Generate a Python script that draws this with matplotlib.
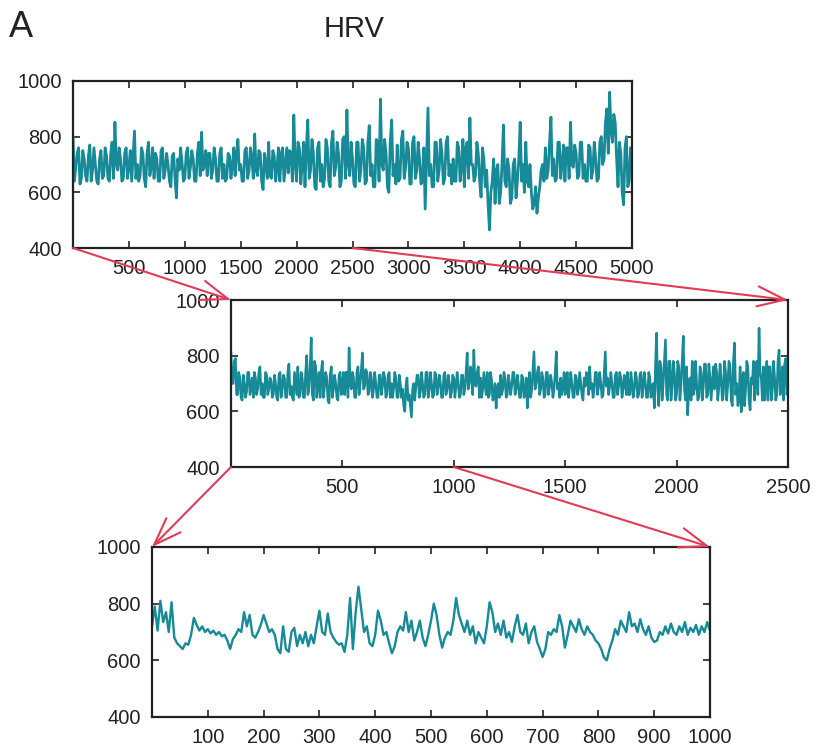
import numpy as np
import matplotlib
matplotlib.use("Agg")
import matplotlib.pyplot as plt
from matplotlib.patches import ConnectionPatch

plt.rcParams['font.family'] = ['Liberation Sans', 'DejaVu Sans']

# --- data (RR intervals, ms) ---
# top panel: beats 0..5000, readings every 25 beats ...
top_step = 25
top_rr = [
    800, 690, 760, 650, 720, 640, 770, 680, 700, 630, 750, 660, 730, 640, 780, 852, 680, 720, 650, 760,
    690, 640, 820, 700, 660, 740, 620, 780, 690, 650, 720, 640, 760, 680, 700, 620, 740, 580, 680, 710,
    650, 760, 690, 720, 640, 780, 816, 700, 660, 740, 680, 720, 640, 760, 700, 650, 730, 690, 660, 790,
    700, 640, 760, 680, 720, 810, 660, 740, 610, 700, 780, 650, 730, 690, 640, 760, 700, 670, 740, 878,
    640, 760, 700, 620, 860, 680, 740, 610, 780, 700, 650, 760, 620, 820, 690, 740, 640, 800, 896, 660,
    720, 620, 780, 680, 760, 640, 840, 700, 620, 780, 935, 680, 740, 600, 860, 700, 770, 650, 820, 690,
    760, 630, 800, 680, 720, 640, 540, 903, 700, 620, 780, 680, 740, 650, 800, 700, 720, 640, 760, 690,
    620, 780, 867, 700, 660, 740, 583, 720, 680, 465, 640, 560, 700, 600, 842, 620, 680, 580, 720, 640,
    852, 700, 780, 620, 600, 560, 525, 620, 700, 760, 680, 870, 720, 650, 780, 700, 640, 760, 852, 690,
    740, 660, 780, 700, 640, 760, 680, 720, 650, 800, 720, 900, 960, 780, 850, 620, 740, 555, 800, 640,
    700,
]
# ... plus the beats half way between them (12.5, 37.5, ...)
top_rr_half = [
    640, 740, 630, 750, 660, 730, 640, 760, 640, 720, 650, 760, 650, 740, 650, 700, 760, 640, 740, 650,
    750, 730, 650, 640, 760, 650, 740, 660, 760, 740, 640, 750, 650, 740, 640, 730, 650, 720, 760, 640,
    740, 650, 750, 640, 740, 660, 680, 750, 740, 650, 760, 640, 740, 650, 640, 740, 650, 760, 740, 680,
    640, 750, 650, 760, 650, 680, 750, 640, 740, 650, 660, 750, 640, 760, 740, 640, 760, 750, 640, 700,
    780, 630, 780, 760, 650, 790, 620, 760, 640, 620, 790, 640, 780, 660, 780, 620, 790, 650, 700, 780,
    630, 780, 640, 790, 630, 780, 660, 620, 790, 640, 700, 790, 620, 780, 660, 630, 640, 790, 650, 780,
    630, 780, 650, 780, 630, 760, 720, 660, 620, 780, 640, 790, 630, 780, 660, 630, 640, 780, 640, 790,
    760, 650, 700, 640, 780, 640, 760, 620, 560, 600, 720, 680, 560, 700, 640, 720, 560, 700, 580, 720,
    640, 600, 640, 700, 540, 620, 580, 680, 640, 650, 780, 660, 640, 780, 650, 770, 760, 650, 700, 770,
    650, 780, 650, 640, 770, 650, 780, 640, 780, 700, 850, 740, 820, 880, 720, 780, 600, 760, 620, 760,
]

# middle panel: beats 0..2500, readings every 10 beats ...
mid_step = 10
mid_rr = [
    810, 700, 790, 660, 720, 640, 700, 670, 740, 690,
    650, 720, 680, 760, 700, 650, 730, 680, 710, 660,
    700, 640, 740, 680, 720, 650, 770, 690, 640, 700,
    760, 660, 720, 650, 800, 680, 864, 640, 760, 700,
    650, 780, 690, 720, 630, 760, 680, 700, 640, 740,
    690, 660, 740, 828, 680, 720, 650, 760, 700, 810,
    690, 740, 670, 720, 680, 700, 650, 730, 690, 720,
    660, 740, 700, 680, 720, 650, 700, 680, 600, 720,
    660, 580, 700, 690, 730, 670, 700, 660, 740, 680,
    700, 660, 730, 690, 700, 650, 740, 680, 700, 670,
    720, 690, 700, 660, 730, 680, 810, 700, 740, 820,
    690, 760, 720, 680, 700, 740, 660, 710, 650, 612,
    700, 730, 680, 720, 660, 700, 690, 740, 680, 700,
    650, 720, 660, 612, 740, 680, 814, 700, 760, 680,
    720, 660, 740, 690, 700, 680, 814, 700, 720, 690,
    660, 740, 690, 700, 650, 720, 680, 700, 640, 690,
    720, 760, 700, 680, 740, 690, 700, 660, 814, 720,
    690, 700, 650, 740, 690, 720, 680, 700, 740, 660,
    700, 680, 720, 660, 740, 690, 700, 650, 720, 690,
    612, 881, 620, 760, 700, 857, 640, 780, 690, 740,
    660, 760, 700, 870, 640, 587, 720, 780, 680, 700,
    650, 740, 690, 770, 660, 720, 700, 680, 740, 690,
    720, 660, 740, 700, 760, 620, 846, 700, 640, 598,
    740, 680, 760, 605, 700, 640, 780, 899, 720, 760,
    700, 640, 760, 680, 720, 660, 820, 700, 640, 790,
    700,
]
# ... plus the beats half way between them (5, 15, ...)
mid_rr_half = [
    700, 780, 660, 740, 650, 730, 650, 740, 660, 720,
    740, 660, 740, 660, 650, 740, 660, 720, 650, 730,
    650, 730, 650, 730, 650, 740, 660, 650, 740, 660,
    650, 740, 650, 740, 660, 760, 660, 780, 650, 740,
    740, 650, 740, 640, 730, 650, 730, 650, 730, 660,
    740, 740, 650, 700, 740, 650, 740, 660, 750, 680,
    750, 660, 740, 650, 740, 650, 730, 660, 740, 650,
    730, 650, 650, 740, 650, 730, 650, 620, 690, 640,
    620, 680, 640, 730, 650, 740, 650, 740, 650, 740,
    650, 740, 660, 730, 650, 730, 660, 730, 650, 730,
    650, 740, 650, 730, 660, 740, 680, 760, 660, 700,
    740, 650, 650, 740, 660, 650, 740, 640, 700, 680,
    650, 660, 740, 650, 730, 660, 740, 660, 730, 650,
    730, 650, 720, 690, 650, 750, 680, 740, 660, 740,
    650, 740, 660, 730, 650, 740, 680, 650, 660, 740,
    730, 650, 740, 650, 730, 660, 740, 660, 720, 740,
    660, 680, 650, 740, 660, 740, 650, 740, 690, 660,
    740, 650, 730, 660, 740, 650, 730, 660, 660, 740,
    650, 740, 650, 730, 650, 740, 650, 740, 650, 700,
    760, 680, 780, 640, 780, 660, 780, 640, 780, 640,
    780, 640, 780, 680, 760, 700, 640, 660, 780, 640,
    760, 640, 770, 650, 770, 640, 760, 770, 640, 770,
    640, 780, 640, 780, 640, 780, 660, 620, 760, 720,
    620, 780, 640, 720, 780, 760, 660, 740, 640, 640,
    780, 760, 640, 780, 640, 780, 660, 760, 770, 660,
]

# bottom panel: beats 0..1000, one value every 5 beats
bot_step = 5
bot_rr = [
    720, 790, 705, 810, 735, 770, 700, 805, 680, 660,
    650, 640, 660, 655, 690, 750, 725, 705, 720, 700,
    710, 695, 705, 690, 700, 685, 690, 670, 640, 675,
    690, 710, 700, 770, 720, 760, 690, 680, 700, 725,
    760, 730, 700, 710, 690, 640, 625, 720, 640, 630,
    700, 715, 650, 690, 660, 700, 650, 690, 660, 720,
    775, 700, 690, 765, 700, 680, 665, 655, 660, 630,
    690, 820, 640, 770, 860, 780, 700, 720, 660, 650,
    690, 775, 740, 690, 700, 660, 625, 650, 700, 720,
    705, 770, 700, 740, 670, 700, 740, 680, 650, 690,
    740, 800, 760, 690, 645, 680, 700, 690, 740, 820,
    760, 730, 700, 740, 690, 720, 660, 700, 680, 660,
    720, 805, 770, 700, 730, 690, 740, 680, 700, 665,
    720, 760, 700, 690, 730, 660, 700, 720, 665, 640,
    612, 640, 700, 690, 710, 700, 760, 720, 645, 690,
    740, 720, 700, 745, 710, 690, 720, 700, 690, 670,
    660, 640, 610, 600, 640, 670, 710, 690, 740, 720,
    700, 770, 720, 730, 700, 745, 710, 690, 720, 680,
    665, 670, 700, 690, 720, 695, 730, 700, 690, 720,
    700, 735, 690, 715, 700, 725, 690, 720, 700, 735,
    705,
]

top_ticks = [500, 1000, 1500, 2000, 2500, 3000, 3500, 4000, 4500, 5000]
mid_ticks = [500, 1000, 1500, 2000, 2500]
bot_ticks = [100, 200, 300, 400, 500, 600, 700, 800, 900, 1000]
y_ticks = [400, 600, 800, 1000]

line_color = '#178a97'
arrow_color = '#e23b55'
W, H = 823, 748


def merge(main, half, step):
    # interleave the on-step readings with the half-step ones
    x = np.concatenate([np.arange(len(main)) * step, np.arange(len(half)) * step + step / 2])
    y = np.concatenate([main, half])
    order = np.argsort(x)
    return x[order], y[order]


fig = plt.figure(figsize=(W / 100, H / 100), dpi=100)


def make_axes(left, top, right, bottom):
    # rectangle given in pixels of the reference
    return fig.add_axes([left / W, 1 - bottom / H, (right - left) / W, (bottom - top) / H])


def style(ax, xmax, xticks):
    ax.set_xlim(0, xmax)
    ax.set_ylim(400, 1000)
    ax.set_xticks(xticks)
    ax.set_yticks(y_ticks)
    ax.tick_params(direction='in', length=5, width=1.2, top=True, right=True,
                   labelsize=14.5, colors='#222222', pad=8)
    for s in ax.spines.values():
        s.set_linewidth(1.6)
        s.set_color('#222222')


ax_top = make_axes(73, 81, 632, 248)
ax_mid = make_axes(231, 300, 788, 467)
ax_bot = make_axes(152, 547, 710, 717)

tx, ty = merge(top_rr, top_rr_half, top_step)
mx, my = merge(mid_rr, mid_rr_half, mid_step)
ax_top.plot(tx, ty, color=line_color, lw=2.0)
ax_mid.plot(mx, my, color=line_color, lw=1.8)
ax_bot.plot(np.arange(len(bot_rr)) * bot_step, bot_rr, color=line_color, lw=1.7)

style(ax_top, 5000, top_ticks)
style(ax_mid, 2500, mid_ticks)
style(ax_bot, 1000, bot_ticks)


def zoom_arrow(ax_a, xa, ax_b, xb):
    con = ConnectionPatch(xyA=(xa, 400), coordsA=ax_a.transData,
                          xyB=(xb, 1000), coordsB=ax_b.transData,
                          arrowstyle='->,head_length=1.1,head_width=0.4',
                          mutation_scale=18, color=arrow_color, lw=1.5,
                          shrinkA=0, shrinkB=0, zorder=10)
    fig.add_artist(con)


zoom_arrow(ax_top, 0, ax_mid, 0)
zoom_arrow(ax_top, 2500, ax_mid, 2500)
zoom_arrow(ax_mid, 0, ax_bot, 0)
zoom_arrow(ax_mid, 1000, ax_bot, 1000)

fig.text(9 / W, 1 - 37 / H, 'A', fontsize=26, color='#222222', ha='left', va='baseline')
fig.text(354 / W, 1 - 37 / H, 'HRV', fontsize=21, color='#222222', ha='center', va='baseline')

fig.savefig('out.png', dpi=100)
